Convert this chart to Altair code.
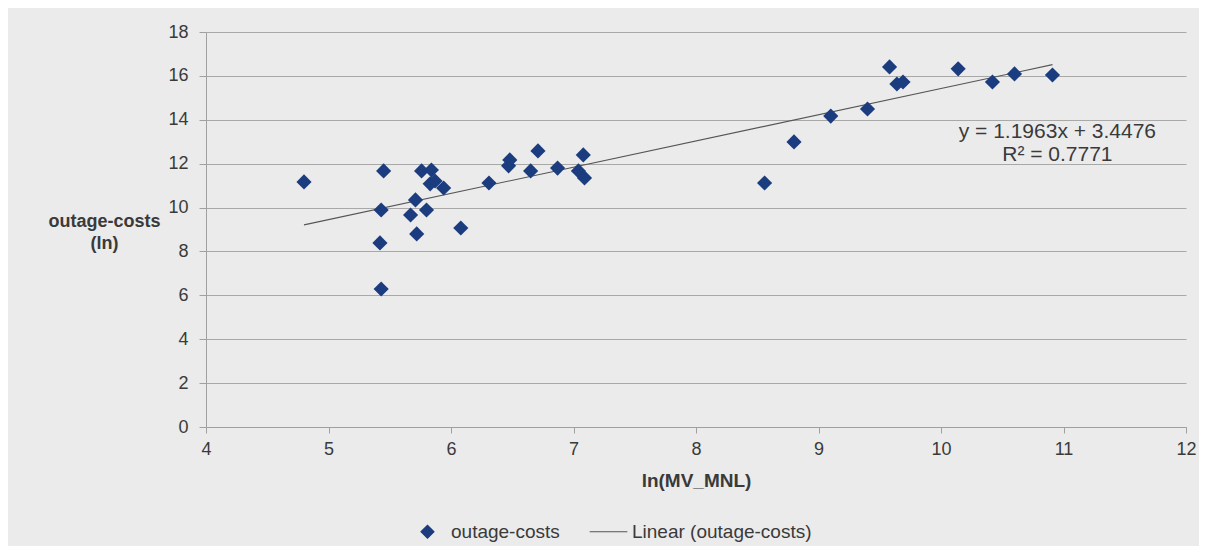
import altair as alt
import pandas as pd

ln_mv_mnl = [4.80, 5.43, 5.45, 5.42, 5.43, 5.67, 5.71, 5.72, 5.76, 5.80, 5.83, 5.84,
             5.87, 5.94, 6.08, 6.31, 6.47, 6.48, 6.65, 6.71, 6.87, 7.04, 7.08, 7.09,
             8.56, 8.80, 9.10, 9.40, 9.58, 9.64, 9.69, 10.14, 10.42, 10.60, 10.91]
outage_costs = [11.17, 9.89, 11.67, 8.39, 6.29, 9.66, 10.35, 8.80, 11.67, 9.89, 11.08, 11.71,
                11.21, 10.89, 9.07, 11.12, 11.90, 12.17, 11.67, 12.58, 11.80, 11.67, 12.40, 11.35,
                11.12, 12.99, 14.17, 14.49, 16.41, 15.63, 15.72, 16.32, 15.72, 16.09, 16.04]
series_names = ["outage-costs", "Linear (outage-costs)"]
eq_text = ["y = 1.1963x + 3.4476", "R² = 0.7771"]
eq_pos = [10.95, 13.45]
x_ticks = [4, 5, 6, 7, 8, 9, 10, 11, 12]
y_ticks = [0, 2, 4, 6, 8, 10, 12, 14, 16, 18]

FONT = "Liberation Sans"
NAVY = "#1b3c7e"
LINE = "#555555"
TXT = "#3a3a3a"

df = pd.DataFrame({"x": ln_mv_mnl, "y": outage_costs, "series": series_names[0]})
eq_df = pd.DataFrame({"x": [eq_pos[0]], "y": [eq_pos[1]], "t": [eq_text]})

xs = alt.Scale(domain=[4, 12], nice=False, zero=False)
ys = alt.Scale(domain=[0, 18], nice=False)

color = alt.Color("series:N",
                  scale=alt.Scale(domain=series_names, range=[NAVY, LINE]),
                  legend=alt.Legend(title=None, orient="none", direction="horizontal",
                                    legendX=212, legendY=490, labelFontSize=19,
                                    labelFont=FONT, labelColor=TXT, labelLimit=400,
                                    symbolSize=169, columnPadding=27, labelOffset=14,
                                    symbolStrokeColor=LINE, symbolStrokeWidth=1.1))
shape = alt.Shape("series:N",
                  scale=alt.Scale(domain=series_names, range=["diamond", "M-2.9,0L2.9,0"]))

base = alt.Chart(df)

points = base.mark_point(filled=True, opacity=1, size=230, shape="diamond").encode(
    x=alt.X("x:Q", scale=xs,
            axis=alt.Axis(title="ln(MV_MNL)", values=x_ticks, format="d", grid=False,
                          tickSize=6, labelPadding=7, titlePadding=13, titleFontSize=19,
                          labelFlush=False)),
    y=alt.Y("y:Q", scale=ys,
            axis=alt.Axis(title=["outage-costs", "(ln)"], values=y_ticks,
                          grid=True, tickSize=7, labelPadding=11, titleAngle=0,
                          titleAlign="center", titleBaseline="middle",
                          titleX=-102, titleY=189, titleLineHeight=22, titleFontSize=18)),
    color=color,
    shape=shape,
)

trend = base.transform_regression("x", "y", method="linear").transform_calculate(
    series=f"'{series_names[1]}'"
).mark_line(strokeWidth=1.1).encode(
    x=alt.X("x:Q", scale=xs),
    y=alt.Y("y:Q", scale=ys),
    color=alt.Color("series:N"),
)

eq = alt.Chart(eq_df).mark_text(font=FONT, fontSize=21, color=TXT, lineHeight=23,
                                 align="center", baseline="middle").encode(
    x=alt.X("x:Q", scale=xs), y=alt.Y("y:Q", scale=ys), text="t")

chart = alt.layer(trend, points, eq).properties(
    width=980, height=395,
    padding={"left": 198, "top": 24, "right": 13, "bottom": 119},
    autosize=alt.AutoSizeParams(type="none"),
    background="#ebebeb",
).configure_view(stroke=None).configure_axis(
    labelFont=FONT, titleFont=FONT, labelFontSize=18,
    labelColor=TXT, titleColor=TXT, titleFontWeight="bold",
    domainColor="#a0a0a0", tickColor="#a0a0a0", gridColor="#a8a8a8",
    gridWidth=1, domainWidth=1,
)

chart.save("out.html", embed_options={"renderer": "svg", "actions": False})
